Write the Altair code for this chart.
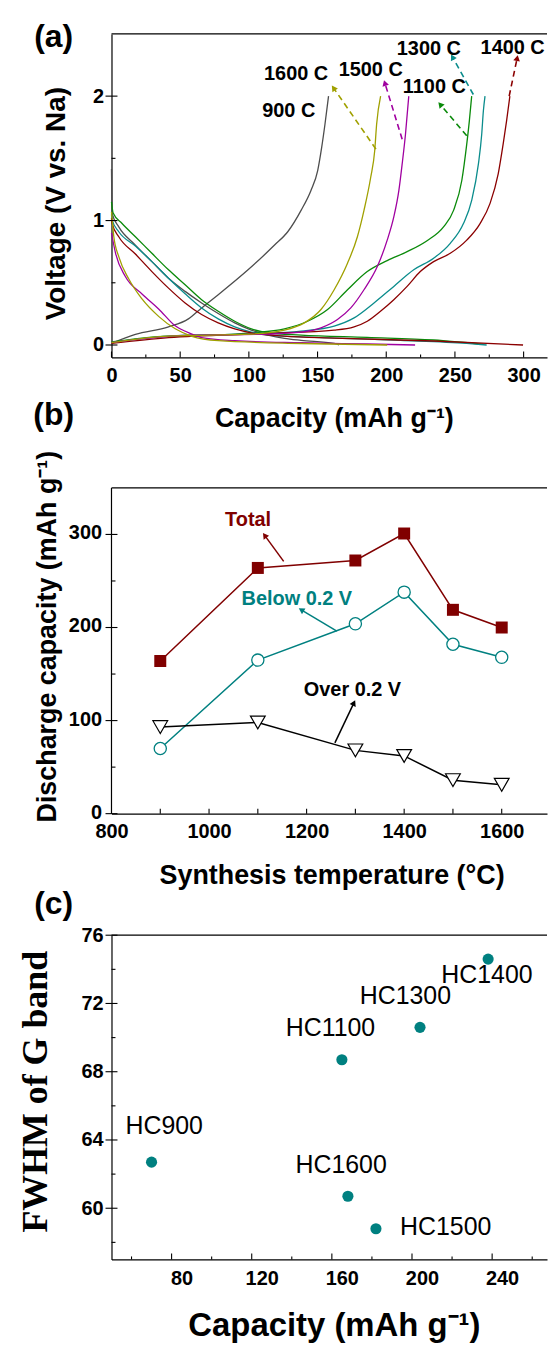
import math
import altair as alt
import pandas as pd

FONT = "Liberation Sans"
SERIF = "Liberation Serif"

# ---------------- layout (pixels) ----------------
W = 437.5
H_A = 325.0
H_B = 336.6
H_C = 325.7
PLOT_LEFT = 110.6
SPACING = 121.7

# ---------------- panel (a): charge / discharge curves ----------------
series_a = ["900 C", "1100 C", "1300 C", "1400 C", "1500 C", "1600 C"]
colors_a = ["#4d4d4d", "#0a8a0a", "#0a8c8c", "#8b0000", "#a000a0", "#a0a000"]

g900_dis_cap = [0, 0.5, 5.3, 17.4, 29.4, 41.5, 53.6, 65.6, 77.7, 89.7, 101.8, 113.9, 125.9, 138.0, 162.1, 165.7]
g900_dis_v = [1.415, 1.056, 0.949, 0.803, 0.670, 0.537, 0.431, 0.338, 0.253, 0.178, 0.120, 0.080, 0.053, 0.037, 0.013, 0.0]
g900_chg_cap = [0, 17.4, 41.5, 56.0, 65.6, 77.7, 99.4, 118.7, 128.3, 138.0, 145.2, 150.1, 153.0, 155.4, 158.0]
g900_chg_v = [0.013, 0.085, 0.146, 0.21, 0.298, 0.404, 0.604, 0.803, 0.91, 1.082, 1.242, 1.402, 1.588, 1.774, 2.0]

g1100_dis_cap = [0, 1.2, 7.7, 17.4, 29.4, 41.5, 53.6, 65.6, 77.7, 89.7, 101.8, 113.9, 138.0, 186.2, 234.5, 270.7]
g1100_dis_v = [1.15, 1.06, 0.976, 0.870, 0.737, 0.604, 0.484, 0.364, 0.271, 0.191, 0.130, 0.098, 0.080, 0.061, 0.040, 0.005]
g1100_chg_cap = [0, 29.4, 65.6, 101.8, 125.9, 142.8, 157.3, 171.8, 186.2, 200.7, 215.2, 229.7, 241.7, 249.0, 255.0, 258.6, 260.5, 262.2]
g1100_chg_v = [0.024, 0.064, 0.077, 0.098, 0.130, 0.191, 0.285, 0.444, 0.590, 0.678, 0.750, 0.838, 0.949, 1.082, 1.322, 1.614, 1.801, 2.0]

g1300_dis_cap = [0, 0.5, 5.3, 17.4, 29.4, 41.5, 53.6, 65.6, 77.7, 89.7, 101.8, 113.9, 162.1, 210.4, 258.6, 273.1]
g1300_dis_v = [1.05, 1.003, 0.910, 0.795, 0.670, 0.537, 0.412, 0.298, 0.210, 0.146, 0.104, 0.080, 0.056, 0.037, 0.013, 0.0]
g1300_chg_cap = [0, 41.5, 101.8, 138.0, 162.1, 176.6, 191.1, 205.5, 220.0, 234.5, 246.6, 256.2, 262.2, 267.1, 269.5, 270.7, 271.9]
g1300_chg_v = [0.019, 0.072, 0.090, 0.112, 0.152, 0.218, 0.338, 0.471, 0.604, 0.697, 0.817, 0.976, 1.162, 1.455, 1.694, 1.880, 2.0]

g1400_dis_cap = [0, 0.5, 5.3, 17.4, 29.4, 41.5, 53.6, 65.6, 77.7, 89.7, 101.8, 125.9, 162.1, 234.5, 299.6]
g1400_dis_v = [1.02, 0.976, 0.870, 0.731, 0.590, 0.457, 0.338, 0.245, 0.178, 0.130, 0.098, 0.072, 0.056, 0.032, 0.0]
g1400_chg_cap = [0, 41.5, 113.9, 162.1, 176.6, 186.2, 195.8, 205.5, 215.2, 224.8, 234.5, 246.6, 258.6, 268.3, 275.5, 281.5, 285.1, 287.6, 290.0]
g1400_chg_v = [0.013, 0.059, 0.093, 0.120, 0.146, 0.191, 0.271, 0.364, 0.471, 0.590, 0.670, 0.737, 0.843, 0.976, 1.136, 1.375, 1.614, 1.801, 2.0]

g1500_dis_cap = [0, 2.9, 10.1, 22.2, 34.3, 46.4, 58.5, 65.6, 89.7, 138.0, 186.0, 221.0]
g1500_dis_v = [0.90, 0.74, 0.55, 0.41, 0.29, 0.154, 0.088, 0.060, 0.035, 0.018, 0.008, 0.0]
g1500_chg_cap = [0, 53.6, 113.9, 138.0, 152.5, 164.5, 174.2, 183.8, 193.5, 200.7, 205.5, 209.2, 211.6, 214.0, 216.4]
g1500_chg_v = [0.019, 0.077, 0.088, 0.104, 0.138, 0.205, 0.298, 0.444, 0.630, 0.843, 1.029, 1.242, 1.455, 1.694, 2.0]

g1600_dis_cap = [0, 1.7, 5.3, 12.6, 22.2, 34.3, 46.4, 58.5, 77.8, 138.0, 200.7]
g1600_dis_v = [1.07, 0.87, 0.71, 0.53, 0.37, 0.23, 0.13, 0.07, 0.035, 0.012, 0.0]
g1600_chg_cap = [0, 41.5, 101.8, 125.9, 140.4, 152.5, 162.1, 171.8, 179.0, 183.8, 188.7, 191.6, 193.0, 195.9]
g1600_chg_v = [0.019, 0.072, 0.088, 0.120, 0.178, 0.285, 0.444, 0.657, 0.870, 1.082, 1.348, 1.561, 1.774, 2.0]

lab_a_text = ["900 C", "1100 C", "1300 C", "1400 C", "1500 C", "1600 C"]
lab_a_cap = [129.0, 235.0, 231.0, 292.0, 188.7, 134.4]
lab_a_v = [1.884, 2.076, 2.38, 2.39, 2.206, 2.177]

arr_a_series = ["1600 C", "1500 C", "1100 C", "1300 C", "1400 C"]
arr_a_x1 = [192.5, 211.6, 258.6, 263.4, 289.5]
arr_a_y1 = [1.574, 1.654, 1.681, 2.013, 2.0]
arr_a_x2 = [161.6, 199.0, 239.3, 248.2, 295.3]
arr_a_y2 = [2.066, 2.106, 1.934, 2.314, 2.306]

# ---------------- panel (b): discharge capacity vs temperature ----------------
temps_b = [900, 1100, 1300, 1400, 1500, 1600]
total_b = [164, 264, 272, 301, 219, 200]
below_b = [70, 165, 204, 238, 182, 168]
over_b = [93, 98, 68, 62, 36, 31]

ann_b_text = ["Total", "Below 0.2 V", "Over 0.2 V"]
ann_b_color = ["#800000", "#008080", "#000000"]
ann_b_x = [1080, 1180, 1294]
ann_b_y = [315, 231, 133]
arr_b_x1 = [1153, 1262, 1258]
arr_b_y1 = [271, 196, 76]
arr_b_x2 = [1114, 1189, 1297]
arr_b_y2 = [299, 219, 119]

# ---------------- panel (c): FWHM of G band vs capacity ----------------
names_c = ["HC900", "HC1100", "HC1300", "HC1400", "HC1500", "HC1600"]
cap_c = [70, 165, 204, 238, 182, 168]
fwhm_c = [62.7, 68.7, 70.6, 74.6, 58.8, 60.7]
lab_c_x = [76.3, 159.3, 196.7, 237.4, 216.8, 164.6]
lab_c_y = [64.82, 70.58, 72.42, 73.68, 58.92, 62.55]

# ---------------- scales ----------------
XA_PX = 1.38
XA = [0.0, 0.0 + W / XA_PX]
YA = [-0.1, 2.5]
XB_PX = 0.49
XB = [800.0, 800.0 + W / XB_PX]
YB = [0.0, 360.0]
B_TOP = 350.0
XC_PX = 2.0125
XC = [50.0, 50.0 + W / XC_PX]
YC = [57.0, 76.0]

xa = alt.Scale(domain=XA, nice=False, zero=False)
ya = alt.Scale(domain=YA, nice=False, zero=False)
xb = alt.Scale(domain=XB, nice=False, zero=False)
yb = alt.Scale(domain=YB, nice=False, zero=False)
xc = alt.Scale(domain=XC, nice=False, zero=False)
yc = alt.Scale(domain=YC, nice=False, zero=False)


def base_axis(values, title, title_font=FONT, **kw):
    return alt.Axis(values=values, title=title, format="d", grid=False, ticks=False, tickSize=0,
                    domainColor="black", domainWidth=1.2, labelFont=FONT, labelFontSize=20,
                    labelFontWeight="bold", labelColor="black", labelFlush=False,
                    labelOverlap=False, labelBound=False, titleFont=title_font,
                    titleFontWeight="bold", titleColor="black", titleAlign="center",
                    titleBaseline="alphabetic", **kw)


# axes (the same object is used by every layer of a panel so they merge cleanly)
AX_A_X = base_axis(list(range(0, 301, 50)), "Capacity (mAh g⁻¹)", labelPadding=8.5,
                   titleFontSize=27, titleX=223.4, titleY=69, titleAngle=0)
AX_A_Y = base_axis([0, 1, 2], "Voltage (V vs. Na)", labelPadding=8, titleFontSize=28,
                   titleX=-47.3, titleY=170, titleAngle=270)
AX_B_X = base_axis([800, 1000, 1200, 1400, 1600], "Synthesis temperature (°C)", labelPadding=8,
                   titleFontSize=27, titleX=221.1, titleY=70, titleAngle=0)
AX_B_Y = base_axis([0, 100, 200, 300], "Discharge capacity (mAh g⁻¹)", labelPadding=10,
                   labelOffset=-1.5, domain=False, titleFontSize=27, titleX=-56.6, titleY=158.3,
                   titleAngle=270)
AX_C_X = base_axis([80, 120, 160, 200, 240], "Capacity (mAh g⁻¹)", labelPadding=9, labelOffset=10,
                   titleFontSize=33, titleX=223.4, titleY=76.6, titleAngle=0)
AX_C_Y = base_axis([60, 64, 68, 72, 76], "FWHM of G band", title_font=SERIF, labelPadding=8.4,
                   titleFontSize=36, titleX=-65.6, titleY=156.7, titleAngle=270)


def xticks(vals, scale, axis, h, length):
    return alt.Chart(pd.DataFrame({"t": vals})).mark_rule(color="black", strokeWidth=1.1).encode(
        x=alt.X("t:Q", scale=scale, axis=axis), y=alt.value(h), y2=alt.value(h - length))


def yticks(vals, scale, axis, x0, x1):
    return alt.Chart(pd.DataFrame({"t": vals})).mark_rule(color="black", strokeWidth=1.1).encode(
        y=alt.Y("t:Q", scale=scale, axis=axis), x=alt.value(x0), x2=alt.value(x1))


def top_border(val, scale, axis):
    return alt.Chart(pd.DataFrame({"t": [val]})).mark_rule(color="black", strokeWidth=1.2).encode(
        y=alt.Y("t:Q", scale=scale, axis=axis), x=alt.value(0), x2=alt.value(W))


def panel_label(txt, x, y):
    return alt.Chart(pd.DataFrame({"t": [txt]})).mark_text(
        font=FONT, fontSize=32, fontWeight="bold", color="black", align="center",
        baseline="alphabetic").encode(text="t:N", x=alt.value(x), y=alt.value(y))


def head_angle(x1, y1, x2, y2, px, py):
    dx = (x2 - x1) * px
    dy = -(y2 - y1) * py
    return math.degrees(math.atan2(dx, -dy)) % 360


# ---------------- panel (a) ----------------
curves = [
    ("900 C", "d", g900_dis_cap, g900_dis_v), ("900 C", "c", g900_chg_cap, g900_chg_v),
    ("1100 C", "d", g1100_dis_cap, g1100_dis_v), ("1100 C", "c", g1100_chg_cap, g1100_chg_v),
    ("1300 C", "d", g1300_dis_cap, g1300_dis_v), ("1300 C", "c", g1300_chg_cap, g1300_chg_v),
    ("1400 C", "d", g1400_dis_cap, g1400_dis_v), ("1400 C", "c", g1400_chg_cap, g1400_chg_v),
    ("1500 C", "d", g1500_dis_cap, g1500_dis_v), ("1500 C", "c", g1500_chg_cap, g1500_chg_v),
    ("1600 C", "d", g1600_dis_cap, g1600_dis_v), ("1600 C", "c", g1600_chg_cap, g1600_chg_v),
]
rows = []
for s, k, caps, vs in curves:
    for i, (c, v) in enumerate(zip(caps, vs)):
        rows.append({"series": s, "curve": s + k, "cap": c, "v": v, "i": i})
df_a = pd.DataFrame(rows)
color_a = alt.Scale(domain=series_a, range=colors_a)

a_lines = alt.Chart(df_a).mark_line(strokeWidth=1.3, interpolate="monotone").encode(
    x=alt.X("cap:Q", scale=xa, axis=AX_A_X),
    y=alt.Y("v:Q", scale=ya, axis=AX_A_Y),
    color=alt.Color("series:N", scale=color_a, legend=None),
    detail="curve:N",
    order="i:Q",
)

PYA = H_A / (YA[1] - YA[0])
df_arr_a = pd.DataFrame({"series": arr_a_series, "x1": arr_a_x1, "y1": arr_a_y1,
                         "x2": arr_a_x2, "y2": arr_a_y2})
df_arr_a["ang"] = [head_angle(a, b, c, d, XA_PX, PYA) for a, b, c, d in
                   zip(arr_a_x1, arr_a_y1, arr_a_x2, arr_a_y2)]
a_arrows = alt.Chart(df_arr_a).mark_rule(strokeWidth=1.6, strokeDash=[6, 4]).encode(
    x=alt.X("x1:Q", scale=xa, axis=AX_A_X), y=alt.Y("y1:Q", scale=ya, axis=AX_A_Y),
    x2="x2:Q", y2="y2:Q", color=alt.Color("series:N", scale=color_a, legend=None))
a_heads = alt.Chart(df_arr_a).mark_point(shape="triangle-up", filled=True, size=45, opacity=1).encode(
    x=alt.X("x2:Q", scale=xa, axis=AX_A_X), y=alt.Y("y2:Q", scale=ya, axis=AX_A_Y),
    angle=alt.Angle("ang:Q", scale=None), color=alt.Color("series:N", scale=color_a, legend=None))
a_text = alt.Chart(pd.DataFrame({"t": lab_a_text, "x": lab_a_cap, "y": lab_a_v})).mark_text(
    font=FONT, fontSize=20, fontWeight="bold", color="black", align="center", baseline="middle"
).encode(text="t:N", x=alt.X("x:Q", scale=xa, axis=AX_A_X), y=alt.Y("y:Q", scale=ya, axis=AX_A_Y))

anchor = alt.Chart(pd.DataFrame({"t": [0]})).mark_rule(opacity=0, color="white").encode(
    x=alt.value(-PLOT_LEFT), x2=alt.value(-PLOT_LEFT + 1), y=alt.value(-30), y2=alt.value(-29))

pa = alt.layer(
    a_lines,
    xticks(list(range(0, 301, 50)), xa, AX_A_X, H_A, 6),
    xticks(list(range(25, 300, 50)), xa, AX_A_X, H_A, 3),
    yticks([0, 1, 2], ya, AX_A_Y, -6, 6),
    yticks([0.5, 1.5], ya, AX_A_Y, 0, 4),
    top_border(YA[1], ya, AX_A_Y),
    a_arrows, a_heads, a_text,
    panel_label("(a)", 52.5 - PLOT_LEFT, 13.3),
    anchor,
).properties(width=W, height=H_A)

# ---------------- panel (b) ----------------
df_b = pd.DataFrame({"T": temps_b, "total": total_b, "below": below_b, "over": over_b})


def bx(field):
    return alt.X(field, scale=xb, axis=AX_B_X)


def by(field):
    return alt.Y(field, scale=yb, axis=AX_B_Y)


b_total_line = alt.Chart(df_b).mark_line(color="#800000", strokeWidth=1.5).encode(
    x=bx("T:Q"), y=by("total:Q"))
b_below_line = alt.Chart(df_b).mark_line(color="#008080", strokeWidth=1.5).encode(
    x=bx("T:Q"), y=by("below:Q"))
b_over_line = alt.Chart(df_b).mark_line(color="black", strokeWidth=1.5).encode(
    x=bx("T:Q"), y=by("over:Q"))
b_total_pts = alt.Chart(df_b).mark_point(shape="square", filled=True, color="#800000", size=145,
                                         opacity=1).encode(x=bx("T:Q"), y=by("total:Q"))
b_below_pts = alt.Chart(df_b).mark_point(shape="circle", filled=True, fill="white", stroke="#008080",
                                         strokeWidth=1.3, size=150, opacity=1).encode(
    x=bx("T:Q"), y=by("below:Q"))
b_over_pts = alt.Chart(df_b).mark_point(shape="triangle-down", filled=True, fill="white", stroke="black",
                                        strokeWidth=1.2, size=220, opacity=1).encode(
    x=bx("T:Q"), y=by("over:Q"))

PYB = H_B / (YB[1] - YB[0])
df_arr_b = pd.DataFrame({"c": ann_b_color, "x1": arr_b_x1, "y1": arr_b_y1, "x2": arr_b_x2, "y2": arr_b_y2})
df_arr_b["ang"] = [head_angle(a, b, c, d, XB_PX, PYB) for a, b, c, d in
                   zip(arr_b_x1, arr_b_y1, arr_b_x2, arr_b_y2)]
b_arrows = alt.Chart(df_arr_b).mark_rule(strokeWidth=1.5).encode(
    x=bx("x1:Q"), y=by("y1:Q"), x2="x2:Q", y2="y2:Q", color=alt.Color("c:N", scale=None))
b_heads = alt.Chart(df_arr_b).mark_point(shape="triangle-up", filled=True, size=45, opacity=1).encode(
    x=bx("x2:Q"), y=by("y2:Q"), angle=alt.Angle("ang:Q", scale=None), color=alt.Color("c:N", scale=None))
b_text = alt.Chart(pd.DataFrame({"t": ann_b_text, "c": ann_b_color, "x": ann_b_x, "y": ann_b_y})).mark_text(
    font=FONT, fontSize=20, fontWeight="bold", align="center", baseline="middle"
).encode(text="t:N", x=bx("x:Q"), y=by("y:Q"), color=alt.Color("c:N", scale=None))
b_left = alt.Chart(pd.DataFrame({"x": [XB[0]], "y0": [YB[0]], "y1": [B_TOP]})).mark_rule(
    color="black", strokeWidth=1.2).encode(x=bx("x:Q"), y=by("y0:Q"), y2="y1:Q")

pb = alt.layer(
    b_total_line, b_below_line, b_over_line,
    b_arrows, b_heads,
    b_total_pts, b_below_pts, b_over_pts,
    b_text,
    xticks(list(range(900, 1601, 100)), xb, AX_B_X, H_B, 5),
    yticks([0, 100, 200, 300], yb, AX_B_Y, -6, 6),
    yticks([50, 150, 250], yb, AX_B_Y, 0, 4),
    top_border(B_TOP, yb, AX_B_Y),
    b_left,
    panel_label("(b)", 52.5 - PLOT_LEFT, -53.4),
).properties(width=W, height=H_B)

# ---------------- panel (c) ----------------
df_c = pd.DataFrame({"name": names_c, "cap": cap_c, "fwhm": fwhm_c, "lx": lab_c_x, "ly": lab_c_y})
c_pts = alt.Chart(df_c).mark_circle(size=125, color="#008080", opacity=1).encode(
    x=alt.X("cap:Q", scale=xc, axis=AX_C_X), y=alt.Y("fwhm:Q", scale=yc, axis=AX_C_Y))
c_text = alt.Chart(df_c).mark_text(font=FONT, fontSize=25, color="black", align="center",
                                   baseline="middle").encode(
    text="name:N", x=alt.X("lx:Q", scale=xc, axis=AX_C_X), y=alt.Y("ly:Q", scale=yc, axis=AX_C_Y))

pc = alt.layer(
    c_pts, c_text,
    xticks([80, 120, 160, 200, 240], xc, AX_C_X, H_C, 6),
    xticks([60, 100, 140, 180, 220, 260], xc, AX_C_X, H_C, 3),
    yticks([60, 64, 68, 72, 76], yc, AX_C_Y, -6, 6),
    yticks([58, 62, 66, 70, 74], yc, AX_C_Y, 0, 4),
    top_border(YC[1], yc, AX_C_Y),
    panel_label("(c)", 52.5 - PLOT_LEFT, -21.7),
).properties(width=W, height=H_C)

chart = alt.vconcat(pa, pb, pc, spacing=SPACING, bounds="flush").properties(
    padding={"left": 0, "top": 0, "right": 0, "bottom": 0}
).configure_view(stroke="transparent")

chart.save("out.html", embed_options={"renderer": "svg", "actions": False})
